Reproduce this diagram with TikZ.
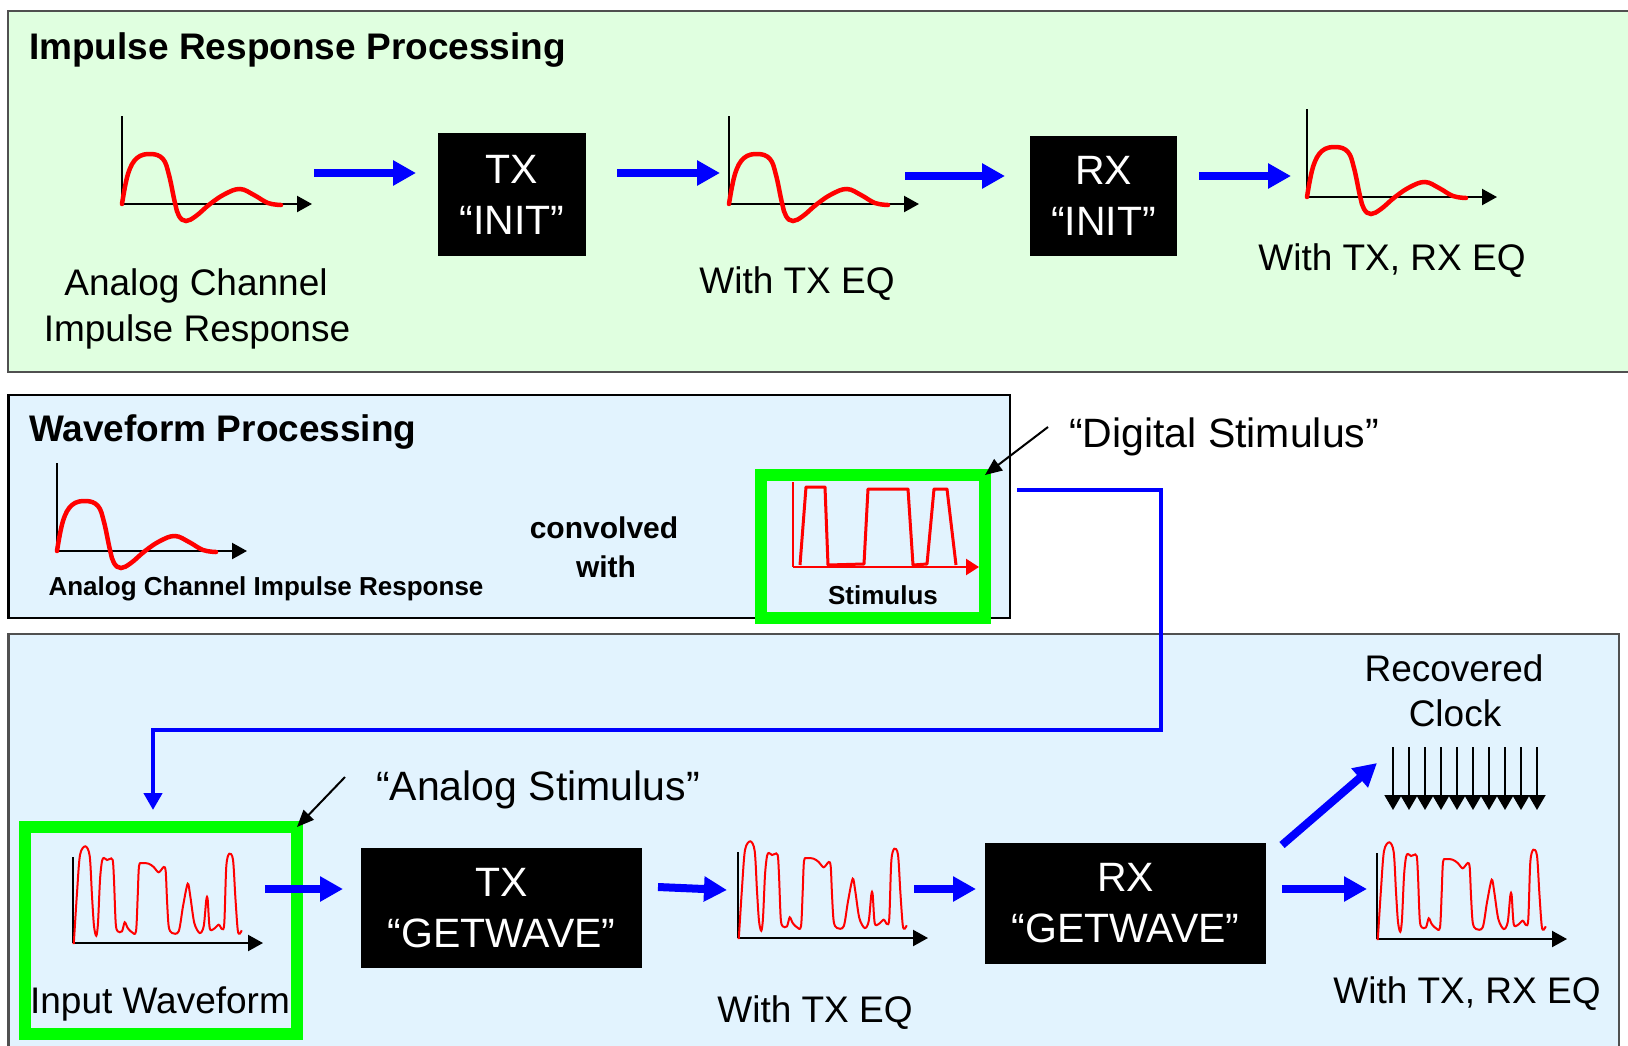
\documentclass[tikz,border=0pt]{standalone}
\usepackage{fontspec}
\setmainfont{Liberation Sans}
\usetikzlibrary{arrows.meta}
\definecolor{panelgreen}{HTML}{E0FFE0}
\definecolor{panelblue}{HTML}{E2F3FE}
\definecolor{panelgray}{HTML}{505050}
\definecolor{brightgreen}{HTML}{00FF00}
\definecolor{flowblue}{HTML}{0000FF}
\definecolor{sigred}{HTML}{FF0000}
\tikzset{
  panel/.style={draw=panelgray, line width=2.5pt, anchor=north west, inner sep=0pt, outer sep=0pt},
  blackbox/.style={fill=black, text=white, inner sep=0pt, align=center, font=\fontsize{41}{51}\selectfont},
  lbl/.style={anchor=base, inner sep=0pt, font=\fontsize{37}{44}\selectfont},
  biglbl/.style={anchor=base west, inner sep=0pt, font=\fontsize{41}{48}\selectfont},
  smallbold/.style={anchor=base, inner sep=0pt, font=\fontsize{26}{30}\selectfont\bfseries},
  midbold/.style={anchor=base, inner sep=0pt, font=\fontsize{30}{36}\selectfont\bfseries},
  ttl/.style={anchor=base west, inner sep=0pt, font=\fontsize{37}{44}\selectfont\bfseries},
  greenbox/.style={draw=brightgreen, line width=12pt, inner sep=0pt, outer sep=0pt, anchor=north west},
  flow/.style={draw=flowblue, line width=8pt, -{Triangle[width=24pt,length=23pt]}},
  feed/.style={draw=flowblue, line width=4.5pt, -{Triangle[width=18pt,length=17pt]}},
  pointer/.style={draw=black, line width=2pt, -{Triangle[width=14pt,length=17pt]}},
  clockarrow/.style={draw=black, line width=1.8pt, -{Triangle[width=17pt,length=15pt]}},
  axis/.style={draw=black, line width=2.2pt},
  impulse/.pic={
    \begin{scope}[yscale=-1]
      \draw[axis] (0,0) -- (0,88);
      \draw[axis, -{Triangle[width=16pt,length=15pt]}] (0,0) -- (190,0);
      \draw[sigred, line width=4.5pt, line cap=round] plot[smooth, tension=0.65] coordinates {(0,0) (6,30) (15,46) (29,50) (41,45) (47,29) (53,1) (57,-12) (64,-17) (74,-12) (88,0) (103,10) (118,15) (132,9) (146,1) (159,-1)};
    \end{scope}
  },
  wave/.pic={
    \begin{scope}[yscale=-1]
      \draw[line width=1.8pt] (0,0) -- (0,86);
      \draw[axis, -{Triangle[width=16pt,length=15pt]}] (0,0) -- (190,0);
      \draw[sigred, line width=2pt] plot[smooth, tension=0.5] coordinates {(0.7,0) (1,3) (4,50) (7,88) (12.3,96.7) (16.7,87) (19,47) (21,17) (23.3,7.3) (25,20) (27,63) (29,82) (31,85) (34,83) (36.7,84) (39.7,83) (41,63) (42.7,20) (44.7,11.7) (49,11.7) (51.7,20.7) (54.7,15) (59,10.7) (63,11.7) (64.7,46.7) (66,76.7) (69,80) (75.7,79.3) (80.7,76) (85.7,70.7) (90.7,76) (92.7,71.7) (94,43.3) (95.7,16.7) (99,10) (105.7,11.7) (110,36.7) (114.7,59.3) (117.3,46.7) (121.3,20) (126.7,10) (130.7,16.7) (133.3,43.3) (134.7,43.3) (136.7,15) (140.7,14) (145.7,18.3) (149,14) (151.3,20) (153.3,76.7) (156.3,89.3) (160,83.3) (162.3,46.7) (164.7,13.3) (166.7,9.3) (168.7,12.7)};
    \end{scope}
  },
  stimplot/.pic={
    \begin{scope}[yscale=-1]
      \draw[sigred, line width=2.5pt] (0,85) -- (0,0);
      \draw[sigred, line width=2.5pt, -{Triangle[width=16pt,length=13pt]}] (0,0) -- (186,0);
      \draw[sigred, line width=3pt, line join=round] (7,2) -- (13,80) -- (32,80) -- (35,2) -- (71,3) -- (75,78) -- (115,78) -- (120,2) -- (134,3) -- (141,78) -- (154,78) -- (163,2);
    \end{scope}
  }
}
\begin{document}
\begin{tikzpicture}[x=1pt, y=-1pt]
\clip (0,0) rectangle (1628,1045);
\fill[white] (0,0) rectangle (1628,1045);

% ---------------- panels ----------------
\node[panel, fill=panelgreen, minimum width=1660pt, minimum height=361pt] (irpanel) at (8,11) {};
\node[panel, draw=black, fill=panelblue, minimum width=1001.5pt, minimum height=223pt] (wfpanel) at (8.5,395) {};
\node[panel, fill=panelblue, minimum width=1610.5pt, minimum height=450pt] (gwpanel) at (8.5,634) {};

% ---------------- top panel ----------------
\node[ttl] (irtitle) at (29,59) {Impulse Response Processing};
\pic at (122,204) {impulse};
\node[lbl] (acl1) at (196,295) {Analog Channel};
\node[lbl] (acl2) at (197,341) {Impulse Response};

\node[blackbox, minimum width=148pt, minimum height=123pt] (txinit) at (512,194.5) {TX\\“INIT”};
\pic at (729,204) {impulse};
\node[lbl] (txeq1) at (797,293) {With TX EQ};
\node[blackbox, minimum width=147pt, minimum height=120pt] (rxinit) at (1103.5,196) {RX\\“INIT”};
\pic at (1307,197) {impulse};
\node[lbl] (rxeq1) at (1392,270) {With TX, RX EQ};

\coordinate (a1s) at (314,173); \coordinate (a1e) at (416,173);
\coordinate (a2s) at (617,173); \coordinate (a2e) at (720,173);
\coordinate (a3s) at (905,176); \coordinate (a3e) at (1005,176);
\coordinate (a4s) at (1199,176); \coordinate (a4e) at (1291,176);
\draw[flow] (a1s) -- (a1e);
\draw[flow] (a2s) -- (a2e);
\draw[flow] (a3s) -- (a3e);
\draw[flow] (a4s) -- (a4e);

% ---------------- middle panel ----------------
\node[ttl] (wftitle) at (29,441) {Waveform Processing};
\pic at (57,551) {impulse};
\node[smallbold] (acir) at (266,595) {Analog Channel Impulse Response};
\node[midbold] (conv1) at (604,538) {convolved};
\node[midbold] (conv2) at (606,577) {with};

\node[greenbox, minimum width=224pt, minimum height=143pt] (stimbox) at (761,475) {};
\pic at (793,567) {stimplot};
\node[smallbold] (stimlbl) at (883,604) {Stimulus};

\node[biglbl] (digstim) at (1069,447) {“Digital Stimulus”};
\coordinate (dsp) at (1048,427);
\draw[pointer] (dsp) -- (stimbox.north east);

% ---------------- bottom panel ----------------
\node[greenbox, minimum width=272pt, minimum height=207pt] (inbox) at (25,827) {};
\pic at (73,943) {wave};
\node[lbl] (inlbl) at (160,1013) {Input Waveform};

\coordinate (fbs) at (1017,490);
\coordinate (fbe) at (153,810);
\draw[feed] (fbs) -- (1161,490) -- (1161,730) -- (153,730) -- (fbe);

\node[biglbl] (anstim) at (376,800) {“Analog Stimulus”};
\coordinate (asp) at (345,777);
\draw[pointer] (asp) -- (inbox.north east);

\node[blackbox, minimum width=281pt, minimum height=120pt] (txgw) at (501.5,908) {TX\\“GETWAVE”};
\pic at (738,938) {wave};
\node[lbl] (txeq2) at (815,1022) {With TX EQ};
\node[blackbox, minimum width=281pt, minimum height=121pt] (rxgw) at (1125.5,903.5) {RX\\“GETWAVE”};
\pic at (1377,939) {wave};
\node[lbl] (rxeq2) at (1467,1003) {With TX, RX EQ};

\node[lbl] (rc1) at (1454,681) {Recovered};
\node[lbl] (rc2) at (1455,726) {Clock};
\foreach \i in {0,...,9} {
  \coordinate (ck\i s) at ({1393+16*\i},747);
  \coordinate (ck\i e) at ({1393+16*\i},810);
  \draw[clockarrow] (ck\i s) -- (ck\i e);
}

\coordinate (b1s) at (265,889); \coordinate (b1e) at (343,889);
\coordinate (b2s) at (658,887); \coordinate (b2e) at (727,890);
\coordinate (b3s) at (914,889); \coordinate (b3e) at (976,889);
\coordinate (b4s) at (1282,845); \coordinate (b4e) at (1377,763);
\coordinate (b5s) at (1282,889); \coordinate (b5e) at (1367,889);
\draw[flow] (b1s) -- (b1e);
\draw[flow] (b2s) -- (b2e);
\draw[flow] (b3s) -- (b3e);
\draw[flow] (b4s) -- (b4e);
\draw[flow] (b5s) -- (b5e);
\end{tikzpicture}
\end{document}
